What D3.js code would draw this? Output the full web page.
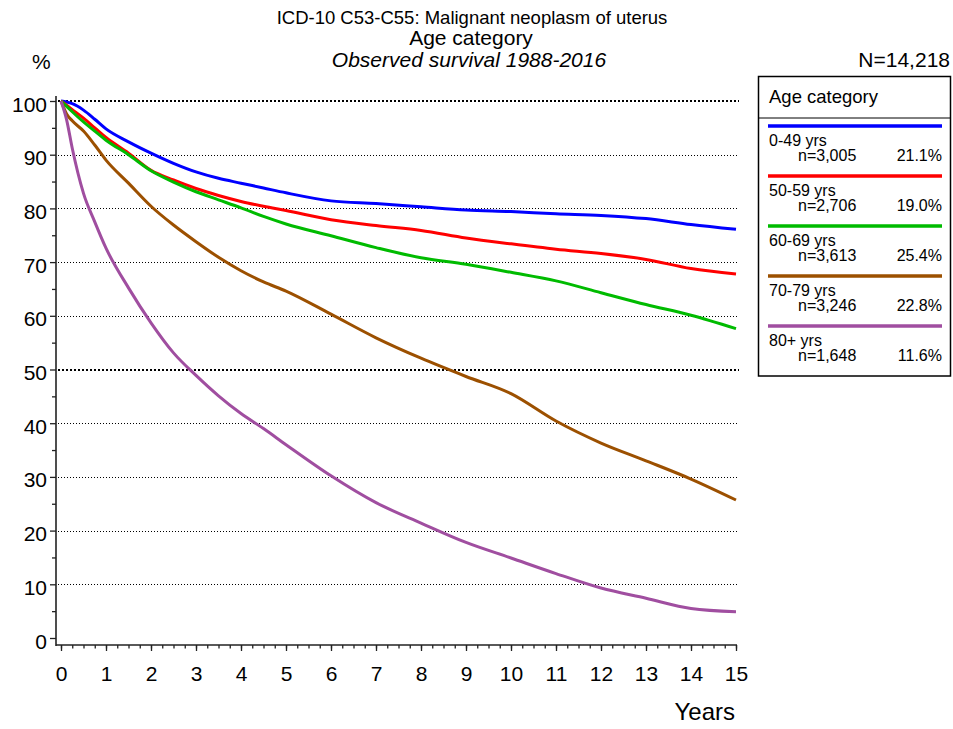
<!DOCTYPE html>
<html>
<head>
<meta charset="utf-8">
<script src="https://cdn.jsdelivr.net/npm/d3@7/dist/d3.min.js"></script>
<style>
  html, body { margin: 0; padding: 0; background: #fff; }
  svg { display: block; font-family: "Liberation Sans", Arial, sans-serif; }
</style>
</head>
<body>
<svg id="chart" width="953" height="729"></svg>
<script>
// ---- Data ----
const years = [0, 0.125, 0.25, 0.5, 0.75, 1, 1.5, 2, 2.5, 3, 3.5, 4, 4.5, 5, 6, 7, 8, 9, 10, 11, 12, 13, 14, 15];
const surv0049 = [100, 99.8, 99.5, 98.3, 96.6, 94.8, 92.4, 90.3, 88.4, 86.8, 85.6, 84.7, 83.8, 82.9, 81.4, 80.9, 80.3, 79.7, 79.4, 79.0, 78.7, 78.1, 77.0, 76.1];
const surv5059 = [100, 99.2, 98.4, 96.8, 95.0, 93.2, 90.3, 87.1, 85.3, 83.7, 82.4, 81.3, 80.4, 79.6, 77.9, 76.8, 75.9, 74.5, 73.4, 72.4, 71.6, 70.5, 68.8, 67.8];
const surv6069 = [100, 99.0, 98.0, 96.1, 94.4, 92.7, 90.0, 87.0, 84.9, 83.1, 81.6, 80.1, 78.5, 77.1, 74.9, 72.7, 70.8, 69.6, 68.1, 66.5, 64.3, 62.1, 60.1, 57.6];
const surv7079 = [100, 97.6, 96.3, 94.4, 91.8, 89.0, 84.7, 80.4, 76.9, 73.8, 70.9, 68.4, 66.3, 64.6, 60.3, 55.9, 52.1, 48.7, 45.5, 40.4, 36.3, 33.0, 29.6, 25.7];
const surv80p  = [100, 96.5, 91.2, 82.8, 77.5, 72.6, 65.2, 58.7, 53.1, 48.9, 45.1, 41.8, 39.0, 36.0, 30.2, 25.2, 21.4, 17.8, 14.9, 12.0, 9.3, 7.4, 5.5, 4.9];

const seriesNames = ["0-49 yrs", "50-59 yrs", "60-69 yrs", "70-79 yrs", "80+ yrs"];
const seriesN     = ["n=3,005", "n=2,706", "n=3,613", "n=3,246", "n=1,648"];
const seriesPct   = ["21.1%", "19.0%", "25.4%", "22.8%", "11.6%"];
const seriesValues = [surv0049, surv5059, surv6069, surv7079, surv80p];
const seriesColors = ["#0000ff", "#ff0000", "#00bb00", "#9c5000", "#a04ea0"];

const xTicks = d3.range(0, 16, 1);
const yTicks = d3.range(0, 101, 10);

const titleLines = ["ICD-10 C53-C55: Malignant neoplasm of uterus", "Age category", "Observed survival 1988-2016"];
const totalN = "N=14,218";
const legendTitle = "Age category";

// ---- Drawing ----
const svg = d3.select("#chart");
const x = d3.scaleLinear().domain([0, 15]).range([61, 736]);
const y = d3.scaleLinear().domain([0, 100]).range([638, 101]);

// Titles
svg.append("text").attr("x", 472).attr("y", 24).attr("text-anchor", "middle")
  .attr("font-size", 18.5).text(titleLines[0]);
svg.append("text").attr("x", 471).attr("y", 45).attr("text-anchor", "middle")
  .attr("font-size", 21).text(titleLines[1]);
svg.append("text").attr("x", 469).attr("y", 67).attr("text-anchor", "middle")
  .attr("font-size", 21).attr("font-style", "italic").text(titleLines[2]);
svg.append("text").attr("x", 32).attr("y", 69).attr("font-size", 21).text("%");
svg.append("text").attr("x", 950).attr("y", 67).attr("text-anchor", "end")
  .attr("font-size", 21).text(totalN);

// Gridlines (dotted; 50 and 100 heavier)
const heavy = d => d === 50 || d === 100;
svg.append("g").selectAll("line").data(yTicks.filter(d => d > 0)).join("line")
  .attr("x1", 58).attr("x2", 739)
  .attr("y1", d => heavy(d) ? Math.round(y(d)) : Math.round(y(d)) + 0.5)
  .attr("y2", d => heavy(d) ? Math.round(y(d)) : Math.round(y(d)) + 0.5)
  .attr("stroke", "#000")
  .attr("shape-rendering", "crispEdges")
  .attr("stroke-width", d => heavy(d) ? 2 : 1)
  .attr("stroke-dasharray", d => heavy(d) ? "2,2" : "1,2");

// Y axis
const yAxisG = svg.append("g").attr("transform", "translate(56,0)");
yAxisG.call(d3.axisLeft(y).tickValues(d3.range(5, 100, 10)).tickSize(4).tickFormat(""));
yAxisG.call(g => g.select(".domain").remove());
const yMaj = svg.append("g").attr("transform", "translate(56,0)")
  .call(d3.axisLeft(y).tickValues(yTicks).tickSize(6).tickPadding(3).tickFormat(d3.format("d")));
yMaj.select(".domain").remove();
yMaj.selectAll("text").attr("font-size", 21).attr("dy", "0.48em").attr("font-family", "Liberation Sans, Arial, sans-serif");
svg.selectAll(".tick line").attr("stroke", "#222").attr("stroke-width", 1.3);
svg.append("line").attr("x1", 56).attr("x2", 56).attr("y1", 96).attr("y2", 646)
  .attr("stroke", "#222").attr("stroke-width", 1.6);

// X axis
const xMin = svg.append("g").attr("transform", "translate(0,645)")
  .call(d3.axisBottom(x).tickValues(d3.range(0, 15.01, 0.25)).tickSize(3.5).tickFormat(""));
xMin.select(".domain").remove();
const xMaj = svg.append("g").attr("transform", "translate(0,645)")
  .call(d3.axisBottom(x).tickValues(xTicks).tickSize(6).tickPadding(15.5).tickFormat(d3.format("d")));
xMaj.select(".domain").remove();
xMaj.selectAll("text").attr("font-size", 21).attr("font-family", "Liberation Sans, Arial, sans-serif");
svg.selectAll(".tick line").attr("stroke", "#222").attr("stroke-width", 1.3);
svg.append("line").attr("x1", 56).attr("x2", 737).attr("y1", 645).attr("y2", 645)
  .attr("stroke", "#222").attr("stroke-width", 1.6);

svg.append("text").attr("x", 735).attr("y", 720).attr("text-anchor", "end")
  .attr("font-size", 24).text("Years");

// Survival curves
const line = d3.line().x(d => x(d[0])).y(d => y(d[1])).curve(d3.curveMonotoneX);
seriesValues.forEach((vals, i) => {
  svg.append("path")
    .datum(years.map((t, j) => [t, vals[j]]))
    .attr("fill", "none")
    .attr("stroke", seriesColors[i])
    .attr("stroke-width", 3)
    .attr("stroke-linejoin", "round")
    .attr("d", line);
});

// Legend
const lg = svg.append("g");
lg.append("rect").attr("x", 758.5).attr("y", 76.5).attr("width", 192).attr("height", 299.5)
  .attr("fill", "#fff").attr("stroke", "#000").attr("stroke-width", 1.5);
lg.append("text").attr("x", 769).attr("y", 103).attr("font-size", 18.5).text(legendTitle);
lg.append("line").attr("x1", 758.5).attr("x2", 950.5).attr("y1", 118).attr("y2", 118)
  .attr("stroke", "#000").attr("stroke-width", 1);
seriesNames.forEach((name, i) => {
  const y0 = 126 + i * 50;
  lg.append("line").attr("x1", 768).attr("x2", 942).attr("y1", y0).attr("y2", y0)
    .attr("stroke", seriesColors[i]).attr("stroke-width", 3.5);
  lg.append("text").attr("x", 769).attr("y", y0 + 20).attr("font-size", 16).text(name);
  lg.append("text").attr("x", 798).attr("y", y0 + 34.5).attr("font-size", 16).text(seriesN[i]);
  lg.append("text").attr("x", 942).attr("y", y0 + 34.5).attr("text-anchor", "end")
    .attr("font-size", 16).text(seriesPct[i]);
});
</script>
</body>
</html>
